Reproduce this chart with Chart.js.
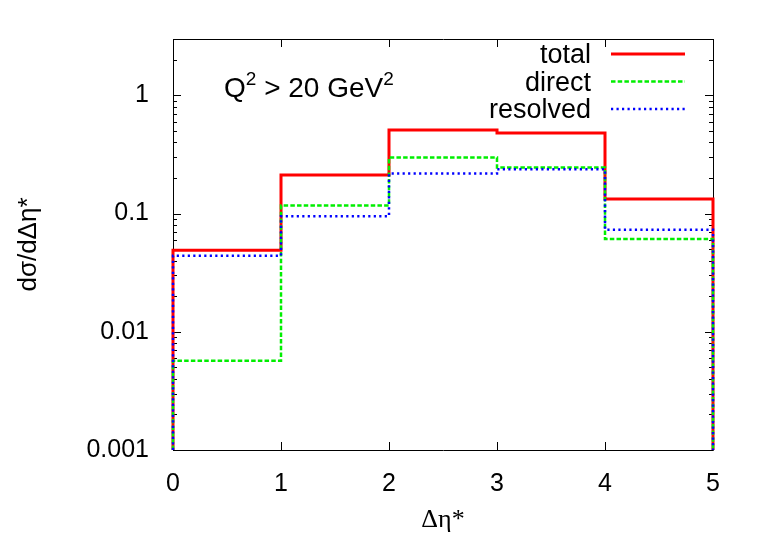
<!DOCTYPE html>
<html>
<head>
<meta charset="utf-8">
<script src="https://cdn.jsdelivr.net/npm/chart.js@4.4.1/dist/chart.umd.min.js"></script>
<style>
  body { margin: 0; background: #fff; }
  #wrap { width: 761px; height: 533px; }
</style>
</head>
<body>
<div id="wrap"><canvas id="myChart" width="761" height="533"></canvas></div>
<script>
// Данные: границы бинов и значения гистограмм
const binEdges = [0, 1, 2, 3, 4, 5];
const total = [0.049, 0.212, 0.51, 0.48, 0.133];
const direct = [0.0057, 0.117, 0.298, 0.245, 0.061];
const resolved = [0.044, 0.095, 0.218, 0.237, 0.073];
const xTicks = [0, 1, 2, 3, 4, 5];
const yTicks = [0.001, 0.01, 0.1, 1];
const yMin = 0.001;
const yMax = 3;

// Ступенчатая линия: вниз до оси в начале и в конце
function steps(vals) {
  const pts = [{ x: binEdges[0], y: yMin }];
  vals.forEach((v, i) => pts.push({ x: binEdges[i], y: v }));
  const last = binEdges[binEdges.length - 1];
  pts.push({ x: last, y: vals[vals.length - 1] });
  pts.push({ x: last, y: yMin });
  return pts;
}

const sans = "'Liberation Sans', Arial, sans-serif";

const legendItems = [
  { label: "total", color: "#ff0000", width: 3, dash: [] },
  { label: "direct", color: "#00ee00", width: 2.5, dash: [4.5, 2.2] },
  { label: "resolved", color: "#0000ff", width: 2.5, dash: [2.2, 3.3] },
];

// рамка, засечки, легенда и подпись
const framePlugin = {
  id: "frame",
  beforeDatasetsDraw(chart) {
    const { ctx, chartArea: a, scales } = chart;
    const x = scales.x, y = scales.y;
    ctx.save();
    ctx.strokeStyle = "#000";
    ctx.lineWidth = 1;
    ctx.setLineDash([]);
    ctx.beginPath();
    ctx.rect(a.left + 0.5, a.top + 0.5, a.right - a.left, a.bottom - a.top);
    ctx.stroke();
    ctx.beginPath();
    xTicks.forEach((v) => {
      const px = Math.round(x.getPixelForValue(v)) + 0.5;
      ctx.moveTo(px, a.bottom); ctx.lineTo(px, a.bottom - 8);
      ctx.moveTo(px, a.top); ctx.lineTo(px, a.top + 8);
    });
    for (let e = -3; e <= 0; e++) {
      for (let m = 1; m <= 9; m++) {
        const v = m * Math.pow(10, e);
        if (v > yMax) break;
        const py = Math.round(y.getPixelForValue(v)) + 0.5;
        const len = m === 1 ? 8 : 4;
        ctx.moveTo(a.left, py); ctx.lineTo(a.left + len, py);
        ctx.moveTo(a.right, py); ctx.lineTo(a.right - len, py);
      }
    }
    ctx.stroke();

    // легенда
    ctx.font = "27px " + sans;
    ctx.fillStyle = "#000";
    ctx.textAlign = "right";
    ctx.textBaseline = "alphabetic";
    legendItems.forEach((it, i) => {
      const base = 63 + i * 27.5;
      ctx.fillText(it.label, 591, base);
      ctx.beginPath();
      ctx.strokeStyle = it.color;
      ctx.lineWidth = it.width;
      ctx.setLineDash(it.dash);
      ctx.moveTo(611, base - 9);
      ctx.lineTo(685, base - 9);
      ctx.stroke();
    });
    ctx.setLineDash([]);

    // Q^2 > 20 GeV^2
    ctx.textAlign = "left";
    let tx = 224;
    const by = 97;
    const parts = [["Q", 0], ["2", 1], [" > 20 GeV", 0], ["2", 1]];
    parts.forEach(([t, sup]) => {
      ctx.font = (sup ? "19px " : "28px ") + sans;
      ctx.fillText(t, tx, sup ? by - 12 : by);
      tx += ctx.measureText(t).width;
    });
    ctx.restore();
  },
};

const data = {
  datasets: [
    {
      label: "total",
      data: steps(total),
      borderColor: "#ff0000",
      borderWidth: 3,
      order: 3,
      clip: 6,
    },
    {
      label: "direct",
      data: steps(direct),
      borderColor: "#00ee00",
      borderWidth: 2.5,
      borderDash: [4.5, 2.2],
      order: 2,
      clip: 6,
    },
    {
      label: "resolved",
      data: steps(resolved),
      borderColor: "#0000ff",
      borderWidth: 2.5,
      borderDash: [2.2, 3.3],
      order: 1,
      clip: 6,
    },
  ],
};

const config = {
  type: "line",
  data,
  plugins: [framePlugin],
  options: {
    responsive: false,
    animation: false,
    devicePixelRatio: 1,
    layout: { padding: { top: 32, right: 48, left: 0, bottom: 0 } },
    elements: {
      point: { radius: 0 },
      line: { stepped: "before", fill: false, borderCapStyle: "butt", borderJoinStyle: "miter" },
    },
    scales: {
      x: {
        type: "linear",
        min: 0,
        max: 5,
        afterFit: (s) => { s.height = 83; },
        afterBuildTicks: (s) => { s.ticks = xTicks.map((v) => ({ value: v })); },
        grid: { display: false, drawTicks: false },
        border: { display: false },
        ticks: { color: "#000", font: { family: sans, size: 25 }, padding: 19 },
        title: {
          display: true,
          text: "Δη*",
          color: "#000",
          font: { family: "'Liberation Serif', 'Times New Roman', serif", size: 26, lineHeight: 1 },
          padding: { top: 0, bottom: 0 },
        },
      },
      y: {
        type: "logarithmic",
        min: yMin,
        max: yMax,
        afterFit: (s) => { s.width = 173; },
        afterBuildTicks: (s) => { s.ticks = yTicks.map((v) => ({ value: v })); },
        grid: { display: false, drawTicks: false },
        border: { display: false },
        ticks: {
          color: "#000",
          font: { family: sans, size: 25 },
          padding: 24,
          callback: (v) => String(v),
        },
        title: {
          display: true,
          text: "dσ/dΔη*",
          color: "#000",
          font: { family: sans, size: 26, lineHeight: 1.2 },
          padding: { top: 13 },
        },
      },
    },
    plugins: {
      legend: { display: false },
      tooltip: { enabled: false },
    },
  },
};

const myChart = new Chart(document.getElementById("myChart"), config);
</script>
</body>
</html>
